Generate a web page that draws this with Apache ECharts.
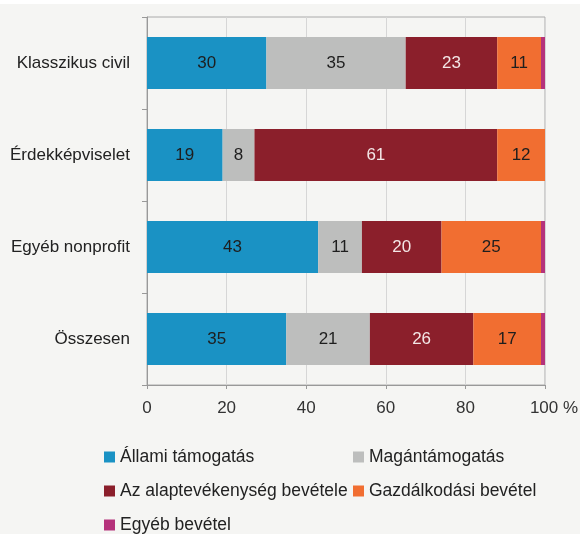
<!DOCTYPE html>
<html><head><meta charset="utf-8">
<script src="https://cdn.jsdelivr.net/npm/echarts@6/dist/echarts.min.js"></script>
<style>html,body{margin:0;padding:0;background:#f5f5f3;}#c{width:580px;height:534px;}</style>
</head><body><div id="c"></div>
<script>
const categories = ['Klasszikus civil', 'Érdekképviselet', 'Egyéb nonprofit', 'Összesen'];
const seriesNames = ['Állami támogatás', 'Magántámogatás', 'Az alaptevékenység bevétele', 'Gazdálkodási bevétel', 'Egyéb bevétel'];
const allami = [30, 19, 43, 35];
const magan = [35, 8, 11, 21];
const alap = [23, 61, 20, 26];
const gazd = [11, 12, 25, 17];
const egyeb = [1, 0, 1, 1];
const tickLabels = ['0', '20', '40', '60', '80', '100 %'];

const colors = ['#1a92c4', '#bdbebd', '#8b1f2b', '#f16e31', '#b5327b'];
const labelColors = ['#1e1e1e', '#1e1e1e', '#f3e6e6', '#1e1e1e', '#1e1e1e'];
const dataArr = [allami, magan, alap, gazd, egyeb];
const FONT = 'Liberation Sans, Arial, sans-serif';

const chart = echarts.init(document.getElementById('c'), null, {renderer: 'canvas'});
const series = seriesNames.map((n, i) => ({
  name: n, type: 'bar', stack: 't', data: dataArr[i].slice().reverse(),
  barWidth: 52,
  itemStyle: {color: colors[i]},
  label: {show: i < 4, position: 'inside', color: labelColors[i], fontSize: 17, fontFamily: FONT,
    formatter: p => p.value > 0 ? String(p.value) : ''}
}));
const legendPos = [[104, 448], [353, 448], [104, 482], [353, 482], [104, 516]];
const legends = seriesNames.map((n, i) => ({
  left: legendPos[i][0], top: legendPos[i][1], padding: 0, itemWidth: 11, itemHeight: 11, itemGap: 0,
  icon: 'rect', selectedMode: false,
  textStyle: {fontSize: 17.5, color: '#222', fontFamily: FONT, padding: [0, 0, 0, 0]},
  data: [n]
}));
chart.setOption({
  backgroundColor: '#f5f5f3',
  animation: false,
  textStyle: {fontFamily: FONT},
  graphic: [{type: 'rect', left: 0, top: 0, shape: {width: 580, height: 4}, style: {fill: '#ffffff'}}],
  grid: {left: 147, right: 35, top: 17, bottom: 149, containLabel: false, outerBoundsMode: 'none',
    show: true, borderColor: '#aaaaaa', borderWidth: 1, backgroundColor: 'transparent'},
  xAxis: {type: 'value', min: 0, max: 100, interval: 20,
    axisLine: {show: true, lineStyle: {color: '#999'}},
    axisTick: {show: true, length: 4, lineStyle: {color: '#999'}},
    splitLine: {show: true, lineStyle: {color: '#d6d6d6'}},
    axisLabel: {color: '#333', fontSize: 17, margin: 15, fontFamily: FONT,
      formatter: v => {
        const t = tickLabels[Math.round(v / 20)];
        return v === 100 ? '{p|' + t + '}' : t;
      },
      rich: {p: {fontSize: 17, color: '#333', fontFamily: FONT, padding: [0, 0, 0, 18]}}
    }
  },
  yAxis: {type: 'category', data: categories.slice().reverse(),
    axisLine: {show: true, lineStyle: {color: '#999'}},
    axisTick: {show: true, length: 5, lineStyle: {color: '#999'}},
    axisLabel: {color: '#222', fontSize: 17, margin: 17, fontFamily: FONT}
  },
  legend: legends,
  series: series
});
</script></body></html>
